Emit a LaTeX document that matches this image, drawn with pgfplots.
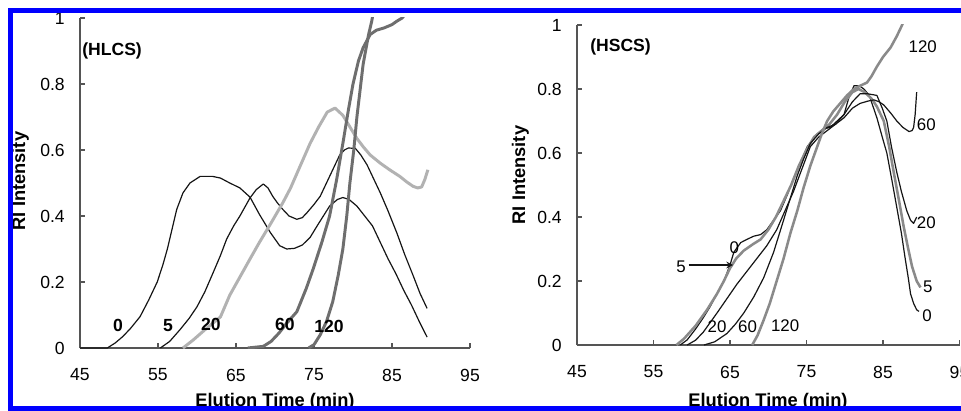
\documentclass[border=0pt]{standalone}
\usepackage{fontspec}
\setmainfont{Liberation Sans}
\usepackage{pgfplots}
\pgfplotsset{compat=1.18}
\definecolor{axgray}{HTML}{555555}
\definecolor{lgray}{HTML}{B2B2B2}
\definecolor{dgray}{HTML}{6E6E6E}
\definecolor{mgray}{HTML}{8A8A8A}
\definecolor{ink}{HTML}{151515}
\definecolor{frameblue}{RGB}{0,0,255}
\pgfplotsset{
  panel/.style={
    scale only axis, axis lines*=left,
    xmin=45, xmax=95, ymin=0, ymax=1,
    xtick={45,55,65,75,85,95}, ytick={0,0.2,0.4,0.6,0.8,1},
    axis line style={draw=axgray, line width=1.4pt},
    major tick style={draw=axgray, line width=1.1pt},
    major tick length=0.13cm, tick align=inside,
    tick label style={font=\fontsize{12.5}{14}\selectfont, /pgf/number format/assume math mode=true, inner sep=0pt},
    xticklabel style={anchor=center, yshift=-0.675cm},
    yticklabel style={anchor=east, xshift=-0.375cm},
    clip=true,
  },
  blk/.style={draw=ink, line width=0.85pt, no markers, line join=round},
}
\begin{document}
\begin{tikzpicture}
\clip (0,0) rectangle (24.025cm,10.25cm);
\fill[white] (0,0) rectangle (24.025cm,10.25cm);

% ---------------- Left panel (HLCS)
\begin{axis}[panel, at={(2cm,1.55cm)}, anchor=south west, width=9.75cm, height=8.25cm]
\addplot[blk] coordinates {(45,0) (48.5,0) (49.5,0.015) (50.5,0.035) (51.5,0.06) (52.7,0.095) (53.8,0.145) (54.9,0.2) (55.6,0.25) (56.2,0.3) (56.8,0.36) (57.4,0.42) (58.2,0.47) (59.1,0.5) (60.4,0.52) (62,0.52) (63,0.515) (64.2,0.5) (65.5,0.485) (66.8,0.457) (68,0.405) (69.4,0.35) (70.6,0.31) (71.5,0.30) (72.5,0.302) (73.5,0.312) (74.5,0.335) (75.4,0.37) (76.2,0.40) (77,0.43) (78,0.45) (78.7,0.456) (79.5,0.45) (80.5,0.43) (81.5,0.40) (82.5,0.37) (83.5,0.32) (84.5,0.27) (85.5,0.225) (86.5,0.175) (87.5,0.13) (88.5,0.08) (89.5,0.033)};
\addplot[blk] coordinates {(55.3,0) (56.5,0.02) (57.8,0.055) (59,0.09) (60,0.125) (61,0.17) (62.1,0.23) (63,0.28) (63.8,0.33) (64.7,0.37) (65.5,0.40) (66.8,0.455) (67.6,0.48) (68.5,0.497) (69.1,0.485) (69.7,0.46) (70.3,0.44) (71,0.42) (71.8,0.40) (72.8,0.39) (73.5,0.395) (74.1,0.41) (75,0.435) (75.8,0.46) (76.4,0.49) (77,0.52) (77.7,0.555) (78.3,0.585) (78.9,0.60) (79.4,0.606) (80.3,0.605) (81,0.585) (81.8,0.555) (82.6,0.515) (83.5,0.47) (84.5,0.415) (85.6,0.35) (86.6,0.285) (87.7,0.22) (88.6,0.165) (89.5,0.12)};
\addplot[draw=lgray, line width=2.1pt, no markers, line join=round] coordinates {(58.2,0) (59.5,0.024) (61,0.055) (63,0.094) (64.2,0.16) (65.5,0.215) (66.8,0.27) (68,0.32) (69.4,0.375) (71,0.44) (72,0.485) (73.2,0.55) (74.5,0.62) (75.6,0.67) (76.7,0.715) (77.7,0.727) (78.7,0.705) (79.6,0.67) (80.5,0.635) (81.3,0.61) (82.2,0.585) (83.5,0.56) (84.7,0.54) (86,0.52) (86.9,0.503) (87.7,0.49) (88.3,0.485) (88.8,0.488) (89.2,0.51) (89.6,0.54)};
\addplot[draw=dgray, line width=2.1pt, no markers, line join=round] coordinates {(66.5,0) (68.5,0.005) (69.5,0.02) (70.5,0.045) (71.5,0.075) (72.8,0.11) (74,0.18) (74.9,0.24) (76,0.32) (77,0.40) (77.9,0.51) (78.7,0.62) (79.4,0.72) (80,0.8) (80.7,0.87) (81.3,0.91) (82.2,0.95) (83,0.963) (84,0.97) (85,0.98) (85.6,0.99) (86.3,1.0) (87,1.02)};
\addplot[draw=dgray, line width=2.1pt, no markers, line join=round] coordinates {(74.3,0) (75,0.01) (75.8,0.04) (76.6,0.08) (77.4,0.14) (78.1,0.22) (78.7,0.3) (79.2,0.4) (79.6,0.5) (80.1,0.6) (80.5,0.7) (80.9,0.78) (81.3,0.86) (82,0.95) (82.4,0.99) (82.7,1.03)};
\node[anchor=west, inner sep=0pt, font=\bfseries\fontsize{12.5}{14}\selectfont] at (axis cs:45.26,0.90) {(HLCS)};
\begin{scope}[every node/.style={font=\bfseries\fontsize{12.5}{14}\selectfont, inner sep=0pt}]
\node at (axis cs:49.87,0.067) {0};
\node at (axis cs:56.28,0.067) {5};
\node at (axis cs:61.79,0.070) {20};
\node at (axis cs:71.28,0.070) {60};
\node at (axis cs:76.92,0.064) {120};
\end{scope}
\end{axis}

% ---------------- Right panel (HSCS)
\begin{axis}[panel, at={(14.425cm,1.625cm)}, anchor=south west, width=9.5625cm, height=8cm]
\addplot[blk] coordinates {(58.5,0) (59.4,0.016) (60.5,0.05) (61.5,0.085) (62.4,0.12) (63.3,0.16) (64.2,0.2) (65,0.25) (65.5,0.29) (66.4,0.32) (67.2,0.33) (68.1,0.34) (69,0.345) (69.8,0.36) (70.7,0.39) (71.6,0.42) (72.5,0.47) (73.3,0.52) (74.2,0.57) (75.1,0.62) (76.4,0.66) (77.2,0.675) (78.1,0.68) (79,0.70) (79.9,0.72) (80.5,0.77) (81.2,0.81) (81.9,0.81) (82.5,0.80) (83.2,0.78) (84.2,0.71) (84.9,0.65) (85.5,0.60) (86.2,0.51) (86.8,0.43) (87.4,0.35) (87.9,0.27) (88.3,0.21) (88.6,0.16) (89,0.13) (89.4,0.11) (89.7,0.105)};
\addplot[draw=mgray, line width=1.8pt, no markers, line join=round] coordinates {(58,0) (59,0.02) (60.5,0.06) (62,0.11) (63.3,0.16) (64.2,0.2) (65,0.24) (65.8,0.27) (66.8,0.295) (68,0.315) (69,0.33) (70,0.36) (71,0.40) (72,0.45) (73,0.50) (74,0.56) (75,0.61) (76,0.65) (77,0.67) (78,0.69) (79,0.72) (80,0.76) (81,0.79) (81.8,0.80) (82.6,0.79) (83.5,0.77) (84.2,0.745) (85.1,0.70) (85.8,0.62) (86.4,0.54) (87.1,0.45) (87.7,0.37) (88.3,0.30) (88.8,0.245) (89.4,0.2) (89.9,0.18)};
\addplot[blk] coordinates {(59.4,0) (60.5,0.015) (61.5,0.04) (62.4,0.07) (63.3,0.1) (64.6,0.145) (65.9,0.19) (67.2,0.23) (68.5,0.27) (69.8,0.31) (71.1,0.36) (72.2,0.42) (73.3,0.48) (74.4,0.55) (75.5,0.62) (76.6,0.65) (77.7,0.67) (78.8,0.69) (79.9,0.72) (81,0.76) (82,0.785) (83,0.785) (84.2,0.78) (84.9,0.74) (85.5,0.70) (86.1,0.62) (86.8,0.54) (87.4,0.48) (88.1,0.42) (88.6,0.39) (89,0.38) (89.4,0.40)};
\addplot[blk] coordinates {(61.6,0) (63,0.01) (64.6,0.036) (65.7,0.065) (66.8,0.1) (68.1,0.15) (69.4,0.21) (70.7,0.29) (72,0.39) (72.9,0.46) (73.8,0.53) (74.6,0.58) (75.5,0.63) (76.6,0.66) (77.7,0.68) (78.8,0.69) (79.9,0.71) (81,0.74) (82,0.755) (83,0.762) (83.8,0.766) (84.5,0.76) (85.1,0.75) (86,0.725) (86.8,0.70) (87.6,0.68) (88.4,0.667) (88.8,0.67) (89,0.68) (89.2,0.72) (89.4,0.79)};
\addplot[draw=mgray, line width=1.8pt, no markers, line join=round] coordinates {(67.9,0) (68.6,0.03) (69.4,0.078) (70.2,0.13) (71.1,0.2) (72,0.27) (72.9,0.35) (73.8,0.42) (74.6,0.49) (75.5,0.56) (76.4,0.62) (77,0.66) (77.7,0.70) (78.5,0.73) (79.4,0.755) (80.3,0.78) (81.2,0.80) (82,0.81) (82.9,0.82) (83.5,0.84) (84.2,0.87) (85,0.90) (86,0.93) (86.8,0.965) (87.5,1.0) (87.8,1.02)};
\node[anchor=west, inner sep=0pt, font=\bfseries\fontsize{12.5}{14}\selectfont] at (axis cs:46.7,0.932) {(HSCS)};
\begin{scope}[every node/.style={font=\fontsize{12}{14}\selectfont, inner sep=0pt}]
\node at (axis cs:65.56,0.304) {0};
\node at (axis cs:58.6,0.245) {5};
\node at (axis cs:63.3,0.057) {20};
\node at (axis cs:67.3,0.057) {60};
\node at (axis cs:72.2,0.059) {120};
\node at (axis cs:90.2,0.932) {120};
\node at (axis cs:90.66,0.69) {60};
\node at (axis cs:90.66,0.382) {20};
\node at (axis cs:90.84,0.182) {5};
\node at (axis cs:90.75,0.092) {0};
\end{scope}
\draw[-stealth, line width=1.1pt, ink] (axis cs:59.6,0.25) -- (axis cs:65.4,0.25);
\end{axis}

% axis titles
\node[rotate=90, anchor=base, font=\bfseries\fontsize{13}{15}\selectfont] at (0.625cm,5.725cm) {RI Intensity};
\node[rotate=90, anchor=base, font=\bfseries\fontsize{13}{15}\selectfont] at (13.125cm,5.875cm) {RI Intensity};
\node[anchor=base, font=\bfseries\fontsize{13}{15}\selectfont] at (6.875cm,0.08cm) {Elution Time (min)};
\node[anchor=base, font=\bfseries\fontsize{13}{15}\selectfont] at (19.2cm,0.08cm) {Elution Time (min)};

% blue frame
\fill[frameblue] (0.2cm,0) rectangle (0.333cm,10.0425cm);
\fill[frameblue] (0.2cm,9.9175cm) rectangle (24.1cm,10.0425cm);
\fill[frameblue] (0.2cm,-0.1cm) rectangle (24.1cm,0.1cm);
\end{tikzpicture}
\end{document}
